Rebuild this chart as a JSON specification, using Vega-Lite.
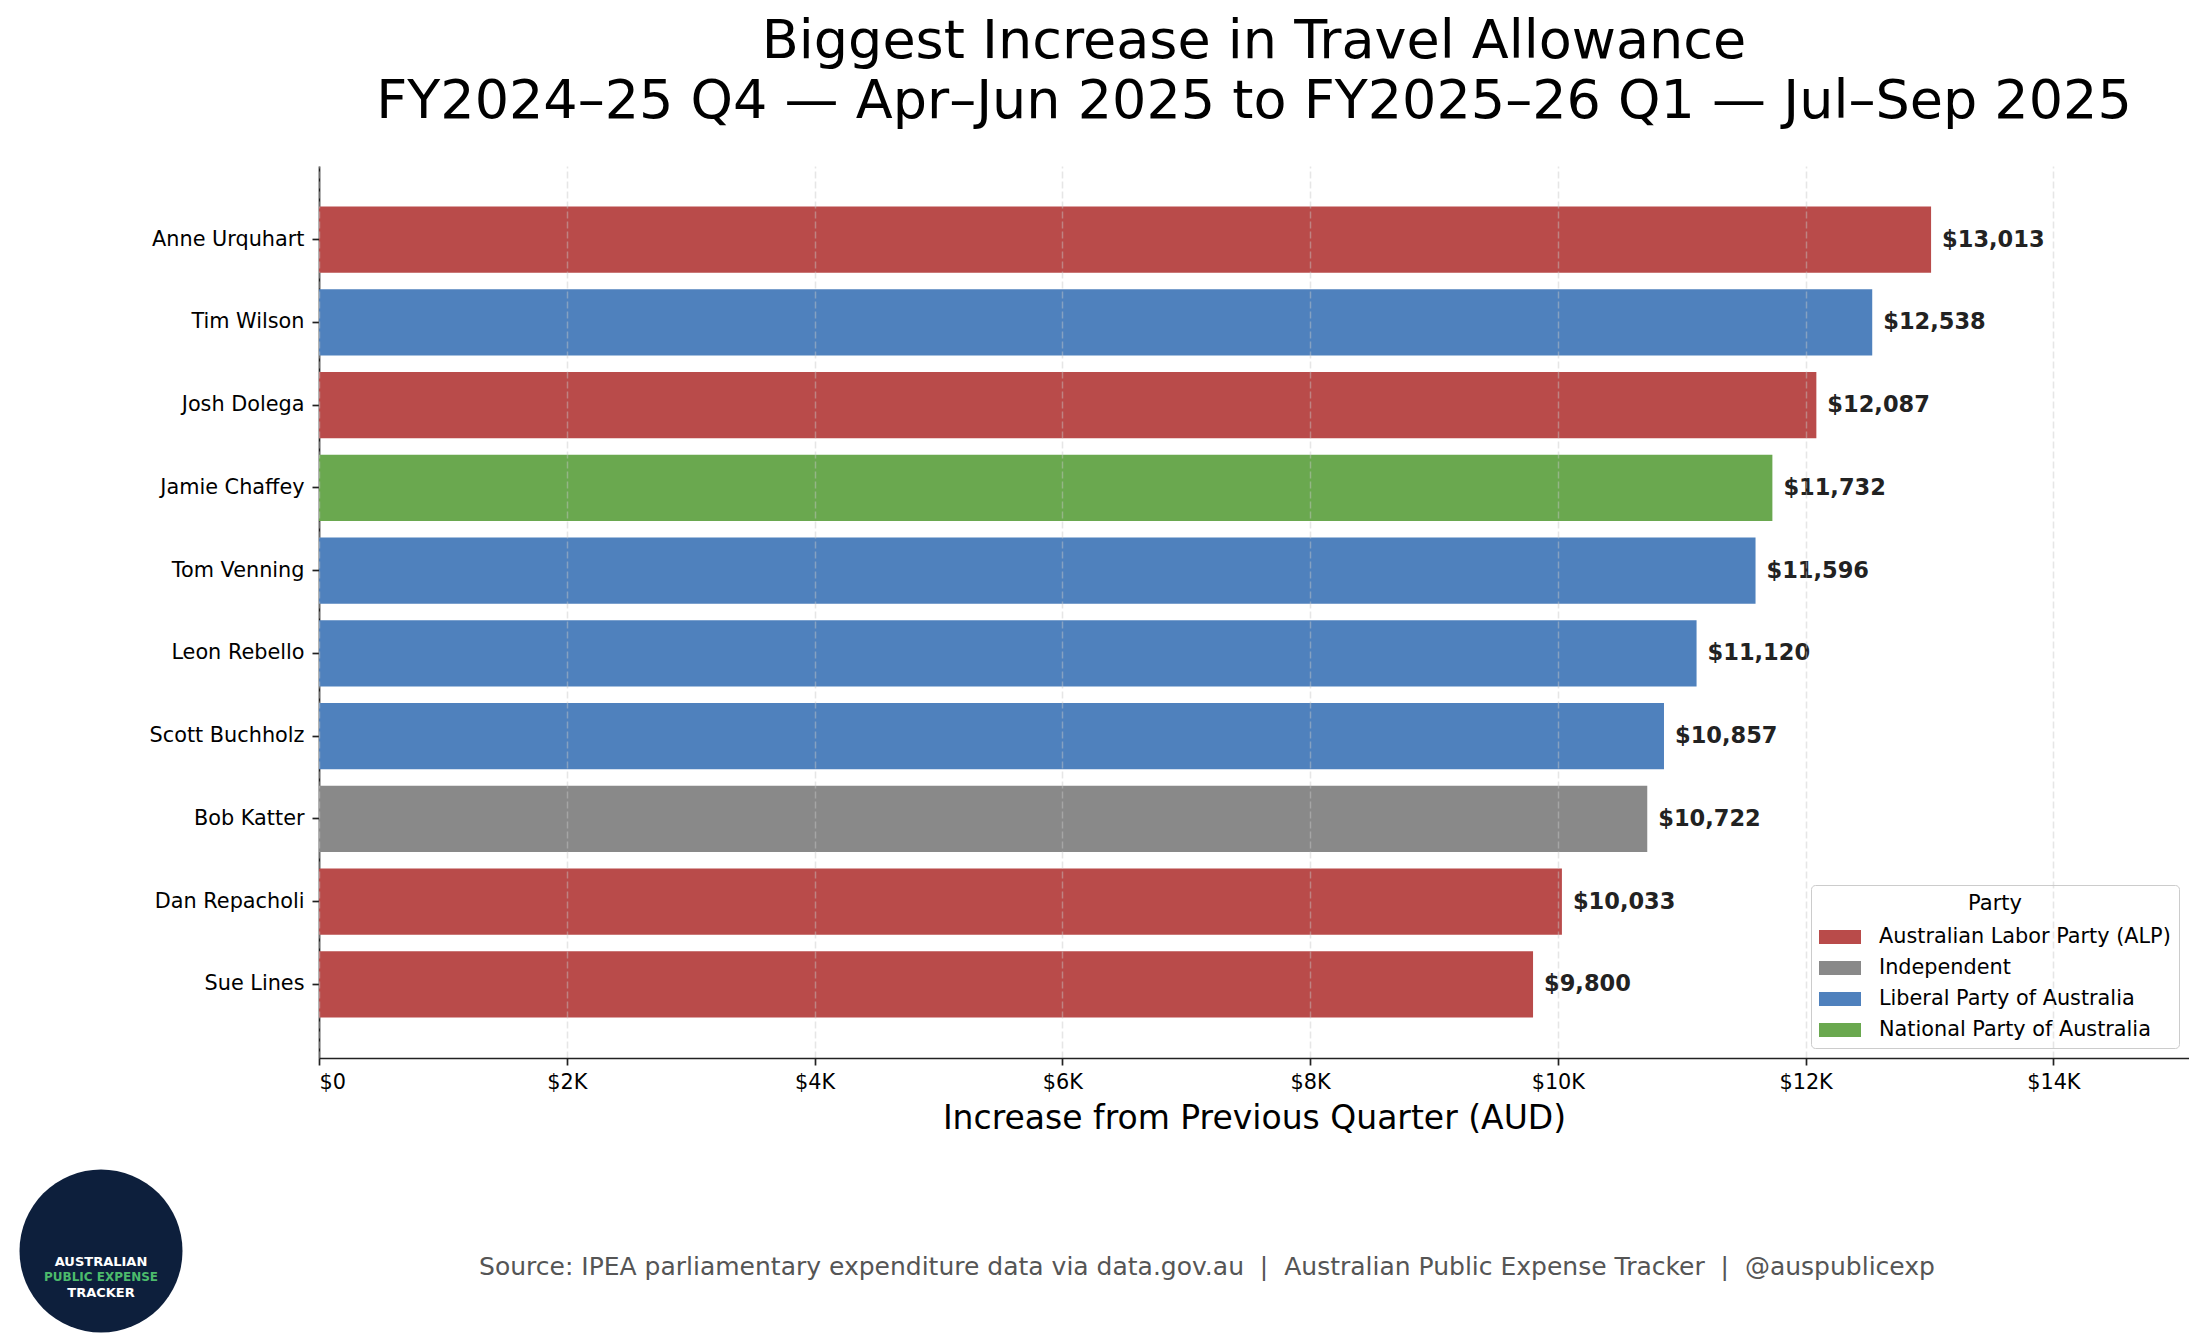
{
  "$schema": "https://vega.github.io/schema/vega-lite/v6.json",
  "description": "Biggest increase in travel allowance, quarter on quarter",
  "padding": {"left": 19, "top": 15, "right": 0, "bottom": 0},
  "config": {
    "font": "DejaVu Sans",
    "view": {"stroke": null}
  },
  "columns": 2,
  "bounds": "flush",
  "spacing": {"column": 136, "row": 111},
  "resolve": {"legend": {"color": "independent"}},
  "concat": [
    {
      "width": 164,
      "height": 10,
      "data": {"values": []},
      "mark": {"type": "point", "opacity": 0},
      "encoding": {}
    },
    {
      "width": 1870,
      "height": 892,
      "title": {
        "text": [
          "Biggest Increase in Travel Allowance",
          "FY2024–25 Q4 — Apr–Jun 2025 to FY2025–26 Q1 — Jul–Sep 2025"
        ],
        "fontSize": 54,
        "lineHeight": 60,
        "fontWeight": "normal",
        "color": "#000000",
        "anchor": "middle",
        "frame": "group",
        "offset": 37
      },
      "data": {
        "values": [
          {"name": "Anne Urquhart", "party": "Australian Labor Party (ALP)", "increase": 13013},
          {"name": "Tim Wilson", "party": "Liberal Party of Australia", "increase": 12538},
          {"name": "Josh Dolega", "party": "Australian Labor Party (ALP)", "increase": 12087},
          {"name": "Jamie Chaffey", "party": "National Party of Australia", "increase": 11732},
          {"name": "Tom Venning", "party": "Liberal Party of Australia", "increase": 11596},
          {"name": "Leon Rebello", "party": "Liberal Party of Australia", "increase": 11120},
          {"name": "Scott Buchholz", "party": "Liberal Party of Australia", "increase": 10857},
          {"name": "Bob Katter", "party": "Independent", "increase": 10722},
          {"name": "Dan Repacholi", "party": "Australian Labor Party (ALP)", "increase": 10033},
          {"name": "Sue Lines", "party": "Australian Labor Party (ALP)", "increase": 9800}
        ]
      },
      "encoding": {
        "y": {
          "field": "name",
          "type": "nominal",
          "sort": null,
          "scale": {"paddingInner": 0.2, "paddingOuter": 0.49},
          "axis": {
            "title": null,
            "labelFontSize": 20.8,
            "labelColor": "#000000",
            "labelPadding": 8,
            "tickSize": 7,
            "tickWidth": 1.7,
            "tickColor": "#222222",
            "domainColor": "#222222",
            "domainWidth": 1.7
          }
        },
        "x": {
          "field": "increase",
          "type": "quantitative",
          "scale": {"domain": [0, 15095], "nice": false},
          "axis": {
            "title": "Increase from Previous Quarter (AUD)",
            "titleFontSize": 33,
            "titleFontWeight": "normal",
            "titleColor": "#000000",
            "titlePadding": 11,
            "values": [0, 2000, 4000, 6000, 8000, 10000, 12000, 14000],
            "labelExpr": "datum.value == 0 ? '$0' : '$' + datum.value / 1000 + 'K'",
            "labelFontSize": 20.8,
            "labelColor": "#000000",
            "labelPadding": 7,
            "tickSize": 7,
            "tickWidth": 1.7,
            "tickColor": "#222222",
            "domainColor": "#222222",
            "domainWidth": 1.7,
            "grid": true,
            "gridColor": "#c8c8c8",
            "gridOpacity": 0.45,
            "gridDash": [7, 3],
            "gridWidth": 1.5,
            "zindex": 1
          }
        }
      },
      "layer": [
        {
          "mark": {"type": "bar"},
          "encoding": {
            "color": {
              "field": "party",
              "type": "nominal",
              "scale": {
                "domain": [
                  "Australian Labor Party (ALP)",
                  "Independent",
                  "Liberal Party of Australia",
                  "National Party of Australia"
                ],
                "range": ["#B94B4A", "#898989", "#4F81BD", "#6AA84F"]
              },
              "legend": {
                "title": "Party",
                "orient": "bottom-right",
                "offset": 10,
                "padding": 8,
                "cornerRadius": 4,
                "strokeColor": "#cccccc",
                "fillColor": "rgba(255,255,255,0.85)",
                "titleFontSize": 21,
                "titleFontWeight": "normal",
                "titleColor": "#000000",
                "titleAnchor": "middle",
                "titlePadding": 2,
                "labelFontSize": 20.8,
                "labelColor": "#000000",
                "labelLimit": 400,
                "labelOffset": 18,
                "rowPadding": 0,
                "symbolType": "M-1,-0.333H1V0.333H-1Z",
                "symbolSize": 1764,
                "symbolStrokeWidth": 0,
                "symbolOpacity": 1
              }
            }
          }
        },
        {
          "mark": {
            "type": "text",
            "align": "left",
            "baseline": "middle",
            "dx": 11,
            "fontSize": 22.5,
            "fontWeight": "bold",
            "color": "#222222"
          },
          "encoding": {
            "text": {"field": "increase", "type": "quantitative", "format": "$,.0f"}
          }
        }
      ]
    },
    {
      "width": 164,
      "height": 164,
      "data": {"values": [{"logo": "Australian Public Expense Tracker"}]},
      "layer": [
        {
          "mark": {"type": "point", "shape": "circle", "filled": true, "size": 26569, "color": "#0d1f3c", "opacity": 1},
          "encoding": {}
        },
        {
          "mark": {"type": "text", "text": "AUSTRALIAN", "dy": 11, "fontSize": 13, "fontWeight": "bold", "color": "#ffffff"},
          "encoding": {}
        },
        {
          "mark": {"type": "text", "text": "PUBLIC EXPENSE", "dy": 26, "fontSize": 12, "fontWeight": "bold", "color": "#4cbb6c"},
          "encoding": {}
        },
        {
          "mark": {"type": "text", "text": "TRACKER", "dy": 42, "fontSize": 13, "fontWeight": "bold", "color": "#ffffff"},
          "encoding": {}
        }
      ]
    },
    {
      "width": 1776,
      "height": 164,
      "data": {
        "values": [
          {"source": "Source: IPEA parliamentary expenditure data via data.gov.au\u00a0 |\u00a0 Australian Public Expense Tracker\u00a0 |\u00a0 @auspublicexp"}
        ]
      },
      "mark": {"type": "text", "dy": 16, "fontSize": 25, "color": "#555555", "baseline": "middle"},
      "encoding": {
        "text": {"field": "source", "type": "nominal"}
      }
    }
  ]
}
